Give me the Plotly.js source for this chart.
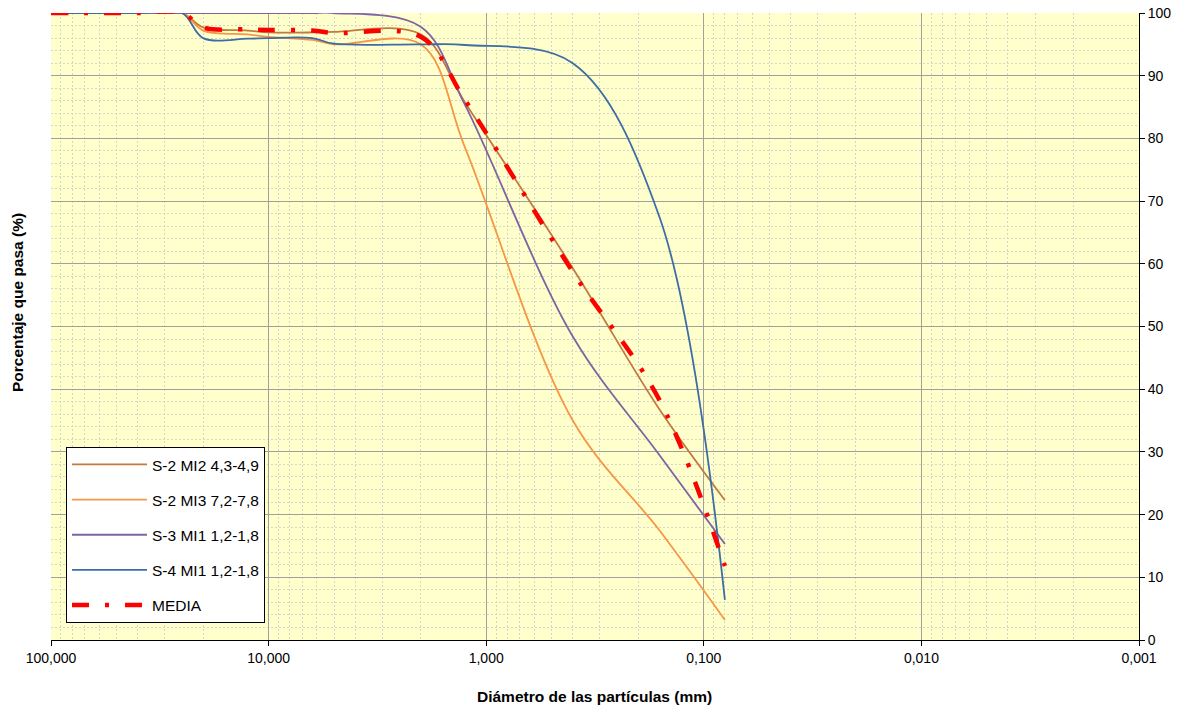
<!DOCTYPE html>
<html>
<head>
<meta charset="utf-8">
<script src="https://cdn.plot.ly/plotly-3.0.1.min.js"></script>
<style>
html,body{margin:0;padding:0;background:#fff;}
#chart{width:1178px;height:711px;}
</style>
</head>
<body>
<div id="chart"></div>
<script>
// Sieve sizes (mm)
const sizes = [100, 80, 63, 50, 40, 25, 20, 12.5, 10, 6.3, 5, 2, 1.25, 0.4, 0.16, 0.08];

// Percent passing per sample
const s2mi2 = [100, 100, 100, 100, 100, 100, 97.7, 97.2, 96.9, 96.9, 97.0, 96.6, 85.7, 59.3, 36.8, 22.3];
const s2mi3 = [100, 100, 100, 100, 100, 100, 97.2, 96.6, 96.2, 95.7, 95.0, 95.0, 78.5, 35.0, 17.5, 3.2];
const s3mi1 = [100, 100, 100, 100, 100, 100, 100, 100, 100, 100, 100, 97.8, 85.3, 48.4, 29.5, 15.3];
const s4mi1 = [100, 100, 100, 100, 100, 100, 96.0, 95.9, 96.0, 96.0, 95.1, 95.0, 94.9, 92.0, 67.5, 6.4];
const media = [100, 100, 100, 100, 100, 100, 97.7, 97.4, 97.3, 97.2, 96.8, 96.2, 86.1, 58.7, 38.3, 11.8];

const seriesNames = ['S-2 MI2 4,3-4,9', 'S-2 MI3 7,2-7,8', 'S-3 MI1 1,2-1,8', 'S-4 MI1 1,2-1,8', 'MEDIA'];

// Axis ticks
const xTickVals = [100, 10, 1, 0.1, 0.01, 0.001];
const xTickText = ['100,000', '10,000', '1,000', '0,100', '0,010', '0,001'];

const FONT = 'Liberation Sans, Arial, sans-serif';

function lineTrace(y, name, color, width, dash, idx) {
  return {
    x: sizes, y: y, name: name, type: 'scatter', mode: 'lines',
    line: {color: color, width: width, shape: 'spline', smoothing: 1, dash: dash},
    legendgroup: 'g' + idx, hoverinfo: 'x+y+name'
  };
}

const traces = [
  lineTrace(s2mi2, seriesNames[0], '#C27A3E', 1.8, 'solid', 0),
  lineTrace(s2mi3, seriesNames[1], '#F79646', 1.8, 'solid', 1),
  lineTrace(s3mi1, seriesNames[2], '#7F63A3', 1.8, 'solid', 2),
  lineTrace(s4mi1, seriesNames[3], '#3D6CA6', 1.8, 'solid', 3),
  lineTrace(media, seriesNames[4], '#FF0000', 4.5, '17px,16px,4px,16px', 4)
];

const layout = {
  width: 1178, height: 711,
  margin: {l: 51, r: 39, t: 13, b: 71},
  paper_bgcolor: '#ffffff',
  plot_bgcolor: '#FFFFCC',
  font: {family: FONT, size: 14, color: '#000'},
  showlegend: true,
  xaxis: {
    type: 'log',
    range: [2, -3],
    tickmode: 'array',
    tickvals: xTickVals,
    ticktext: xTickText,
    ticks: 'outside', ticklen: 5, tickcolor: '#000', tickwidth: 1,
    showline: true, linecolor: '#000', linewidth: 1,
    showgrid: true, gridcolor: '#A0A0A0', gridwidth: 1,
    minor: {dtick: 'D1', showgrid: true, gridcolor: '#D6D6C6', gridwidth: 1, griddash: '2px,2px', ticks: ''},
    zeroline: false,
    tickfont: {family: FONT, size: 14, color: '#000'}
  },
  yaxis: {
    range: [0, 100],
    side: 'right',
    dtick: 10, tick0: 0,
    ticks: 'outside', ticklen: 5, tickcolor: '#000', tickwidth: 1,
    showline: true, linecolor: '#000', linewidth: 1,
    showgrid: true, gridcolor: '#A0A0A0', gridwidth: 1,
    minor: {dtick: 2, showgrid: true, gridcolor: '#D6D6C6', gridwidth: 1, griddash: '2px,2px', ticks: ''},
    zeroline: false,
    tickfont: {family: FONT, size: 14, color: '#000'}
  },
  legend: {
    x: 0.0138, y: 0.308, xanchor: 'left', yanchor: 'top',
    bgcolor: '#ffffff', bordercolor: '#000', borderwidth: 1,
    font: {family: FONT, size: 15.5, color: '#000'},
    traceorder: 'grouped',
    tracegroupgap: 12,
    itemwidth: 75
  },
  annotations: [
    {text: '<b>Porcentaje que pasa (%)</b>', xref: 'paper', yref: 'paper',
     x: -0.0303, y: 0.5375, xanchor: 'center', yanchor: 'middle', textangle: -90,
     showarrow: false, font: {family: FONT, size: 15.5, color: '#000'}},
    {text: '<b>Diámetro de las partículas (mm)</b>', xref: 'paper', yref: 'paper',
     x: 0.4995, y: -0.0909, xanchor: 'center', yanchor: 'middle',
     showarrow: false, font: {family: FONT, size: 15.5, color: '#000'}}
  ]
};

Plotly.newPlot('chart', traces, layout, {displayModeBar: false, staticPlot: true});
</script>
</body>
</html>
